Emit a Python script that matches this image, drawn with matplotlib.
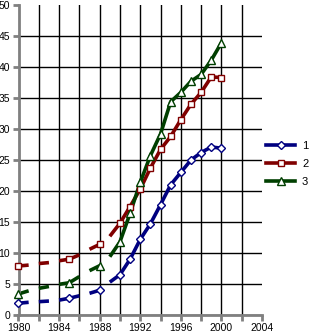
import numpy as np
import matplotlib.pyplot as plt
from matplotlib.lines import Line2D

plt.rcParams['font.family'] = ['Liberation Sans', 'DejaVu Sans']

years = list(range(1980, 2001))
s1 = [1.9, 2.05, 2.15, 2.25, 2.4, 2.7, 3.1, 3.5, 4.0, 5.3, 6.5,
      9.0, 12.2, 14.7, 17.8, 21.0, 23.0, 25.0, 26.2, 27.1, 26.9]
s2 = [7.9, 8.05, 8.3, 8.45, 8.75, 9.0, 9.7, 10.6, 11.4, 12.7, 14.8,
      17.5, 20.3, 23.7, 26.7, 28.8, 31.5, 34.0, 35.9, 38.4, 38.3]
s3 = [3.4, 3.9, 4.3, 4.6, 4.95, 5.2, 6.2, 7.15, 7.95, 9.4, 11.8,
      16.4, 21.4, 25.7, 29.2, 34.4, 35.9, 37.7, 38.8, 41.1, 43.9]
labels = ['1', '2', '3']
colors = ['#000080', '#800000', '#003f00']
markers = ['D', 's', '^']
msizes = [4.0, 5.0, 6.0]

# segments starting at these years are not drawn
skip = [1981, 1983, 1986, 1988]
marker_years = [1980, 1985, 1988] + list(range(1990, 2001))

fig = plt.figure(figsize=(3.10, 3.33), dpi=100)
ax = fig.add_axes([18.5/310, 18/333, (262-18.5)/310, 310/333])

def runs(xs):
    out = []
    cur = [0]
    for i in range(1, len(xs)):
        if xs[i-1] in skip:
            out.append(cur)
            cur = [i]
        else:
            cur.append(i)
    out.append(cur)
    return out

handles = []
for vals, c, m, ms, lab in zip([s1, s2, s3], colors, markers, msizes, labels):
    x = np.array(years)
    y = np.array(vals)
    for r in runs(years):
        ax.plot(x[r], y[r], color=c, lw=2.6, solid_capstyle='butt', zorder=3)
    idx = [years.index(v) for v in marker_years]
    ax.plot(x[idx], y[idx], ls='none', marker=m, ms=ms, mfc='white',
            mec=c, mew=1.0, zorder=6, clip_on=False)
    handles.append(Line2D([], [], color=c, lw=2.6, marker=m, ms=ms,
                          mfc='white', mec=c, mew=1.0))

ax.set_xlim(1980, 2004)
ax.set_ylim(0, 50)
ax.set_xticks(np.arange(1980, 2005, 2))
ax.set_xticklabels([str(v) if (v - 1980) % 4 == 0 else '' for v in range(1980, 2005, 2)])
ax.set_yticks(np.arange(0, 51, 5))

ax.grid(True, color='black', lw=1.0, zorder=1)
ax.xaxis.get_major_ticks()[-1].gridline.set_visible(False)
ax.yaxis.get_major_ticks()[-1].gridline.set_visible(False)

for s in ['top', 'right']:
    ax.spines[s].set_visible(False)
for s in ['left', 'bottom']:
    ax.spines[s].set_color('#808080')
    ax.spines[s].set_linewidth(2)
    ax.spines[s].set_zorder(5)
ax.tick_params(axis='both', colors='#808080', width=2, length=4,
               labelcolor='black', labelsize=7.5)
ax.tick_params(axis='x', pad=2)
ax.tick_params(axis='y', pad=2)

fig.legend(handles, labels, loc='center left', bbox_to_anchor=(262/310, 1 - 164/333),
           frameon=False, fontsize=8, handlelength=2.6, handletextpad=0.6,
           labelspacing=0.75, borderaxespad=0)

fig.savefig('out.png', dpi=100)
